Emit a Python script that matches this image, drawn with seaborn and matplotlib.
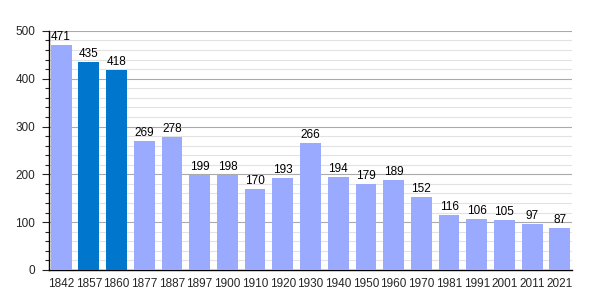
import matplotlib
matplotlib.use("Agg")
import matplotlib.pyplot as plt
import seaborn as sns
import pandas as pd
from matplotlib.ticker import MultipleLocator

years = ["1842", "1857", "1860", "1877", "1887", "1897", "1900", "1910", "1920", "1930",
         "1940", "1950", "1960", "1970", "1981", "1991", "2001", "2011", "2021"]
population = [471, 435, 418, 269, 278, 199, 198, 170, 193, 266,
              194, 179, 189, 152, 116, 106, 105, 97, 87]
highlight = ["1857", "1860"]

df = pd.DataFrame({"year": years, "pop": population})
df["kind"] = ["dark" if y in highlight else "light" for y in years]

sns.set_style("white")
plt.rcParams['font.family'] = ['Liberation Sans', 'DejaVu Sans']

fig = plt.figure(figsize=(6, 3), dpi=100)
ax = fig.add_axes([0.082, 0.10, 0.871, 0.797])

sns.barplot(data=df, x="year", y="pop", hue="kind",
            palette={"light": "#99aaff", "dark": "#0077cc"},
            dodge=False, width=0.75, saturation=1, linewidth=0,
            legend=False, ax=ax, zorder=3)

ax.set_ylim(0, 500)
ax.set_xlim(-0.43, len(years) - 1 + 0.43)
ax.yaxis.set_major_locator(MultipleLocator(100))
ax.yaxis.set_minor_locator(MultipleLocator(20))
ax.grid(axis="y", which="major", color="#aaaaaa", linewidth=0.8, zorder=0)
ax.grid(axis="y", which="minor", color="#e2e2e2", linewidth=0.8, zorder=0)
ax.set_axisbelow(True)

for s in ["top", "right"]:
    ax.spines[s].set_visible(False)
ax.spines["left"].set_color("black")
ax.spines["bottom"].set_color("black")
ax.spines["left"].set_linewidth(1)
ax.spines["bottom"].set_linewidth(1)

ax.tick_params(axis="y", which="major", left=True, length=5, width=0.8, labelsize=8.5, pad=5)
ax.tick_params(axis="y", which="minor", left=True, length=3, width=0.8)
ax.tick_params(axis="x", which="both", bottom=False, labelsize=8.5, pad=2)
ax.set_xlabel("")
ax.set_ylabel("")

for i, v in enumerate(population):
    ax.text(i, v + 4, str(v), ha="center", va="bottom", fontsize=8.5, color="black", zorder=4)

fig.savefig("out.png", dpi=100)
